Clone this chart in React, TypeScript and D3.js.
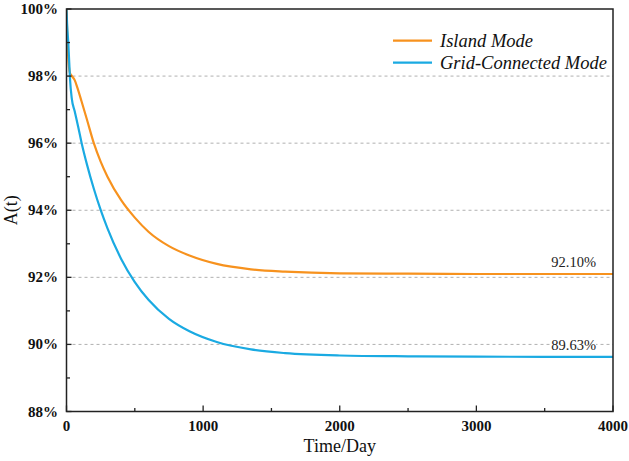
import React from "react";
import * as d3 from "d3";

const islandT = [0, 5, 12, 25, 40, 60, 80, 110, 150, 200, 250, 300, 400, 500, 600, 750, 900, 1100, 1350, 1600, 2000, 2500, 3000, 3500, 4000];
const islandA = [100, 99.3, 98.6, 98.1, 98.0, 97.88, 97.65, 97.25, 96.7, 96.0, 95.45, 95.0, 94.3, 93.78, 93.36, 92.93, 92.65, 92.4, 92.24, 92.17, 92.12, 92.11, 92.1, 92.1, 92.1];

const gridT = [0, 5, 13, 20, 26, 38, 60, 85, 111, 150, 200, 250, 300, 400, 500, 600, 750, 900, 1100, 1350, 1600, 2000, 2500, 3000, 3500, 4000];
const gridA = [100, 99.5, 99.0, 98.4, 97.9, 97.35, 96.95, 96.5, 96.0, 95.36, 94.64, 94.01, 93.46, 92.55, 91.86, 91.33, 90.76, 90.39, 90.07, 89.85, 89.74, 89.67, 89.645, 89.635, 89.63, 89.63];

const xTicks = [0, 1000, 2000, 3000, 4000];
const xMinor = [500, 1500, 2500, 3500];
const yTicks = [88, 90, 92, 94, 96, 98, 100];
const yMinor = [89, 91, 93, 95, 97, 99];
const gridLines = [90, 92, 94, 96, 98];

const seriesNames = ["Island Mode", "Grid-Connected Mode"];
const annotations = ["92.10%", "89.63%"];
const annotationValues = [92.1, 89.63];

const ORANGE = "#F7921E";
const BLUE = "#1AAAE2";
const FONT = "'Liberation Serif', 'Times New Roman', serif";

export default function App() {
  const W = 629, H = 461;
  const L = 66.5, R = 613, T = 9, B = 411.5;
  const x = d3.scaleLinear().domain([0, 4000]).range([L, R]);
  const y = d3.scaleLinear().domain([88, 100]).range([B, T]);
  const line = d3.line<[number, number]>().x(d => x(d[0])).y(d => y(d[1])).curve(d3.curveMonotoneX);
  const islandPath = line(islandT.map((t, i) => [t, islandA[i]]) as [number, number][]) || "";
  const gridPath = line(gridT.map((t, i) => [t, gridA[i]]) as [number, number][]) || "";

  return (
    <svg width={W} height={H} style={{ position: "absolute", left: 0, top: 0, background: "#fff", fontFamily: FONT }}>
      <rect x={0} y={0} width={W} height={H} fill="#fff" />
      {gridLines.map(v => (
        <line key={"g" + v} x1={L} x2={R} y1={y(v)} y2={y(v)} stroke="#b0b0b0" strokeWidth={1} strokeDasharray="3,3" />
      ))}
      {/* annotations */}
      <text x={596} y={y(annotationValues[0]) - 7} textAnchor="end" fontSize={14.5} fill="#222">{annotations[0]}</text>
      <rect x={552} y={y(90) - 5} width={44} height={10} fill="#fff" />
      <text x={596} y={y(90) + 6} textAnchor="end" fontSize={14.5} fill="#222">{annotations[1]}</text>

      <defs>
        <clipPath id="plotclip"><rect x={L} y={T} width={R - L} height={B - T} /></clipPath>
      </defs>
      <g clipPath="url(#plotclip)">
        <path d={islandPath} fill="none" stroke={ORANGE} strokeWidth={2.2} />
        <path d={gridPath} fill="none" stroke={BLUE} strokeWidth={2.2} />
      </g>

      {/* frame */}
      <rect x={L} y={T} width={R - L} height={B - T} fill="none" stroke="#222" strokeWidth={1.5} />

      {/* x ticks */}
      {xTicks.map(v => (
        <g key={"xt" + v}>
          <line x1={x(v)} x2={x(v)} y1={B} y2={B - 6} stroke="#222" strokeWidth={1.3} />
          <text x={x(v)} y={430.5} textAnchor="middle" fontSize={15} fontWeight="bold" fill="#111">{v}</text>
        </g>
      ))}
      {xMinor.map(v => (
        <line key={"xm" + v} x1={x(v)} x2={x(v)} y1={B} y2={B - 3.5} stroke="#222" strokeWidth={1.3} />
      ))}
      {yTicks.map(v => (
        <g key={"yt" + v}>
          <line x1={L} x2={L + 5} y1={y(v)} y2={y(v)} stroke="#222" strokeWidth={1.3} />
          <text x={58} y={y(v) + 5} textAnchor="end" fontSize={15} fontWeight="bold" fill="#111">{v}%</text>
        </g>
      ))}
      {yMinor.map(v => (
        <line key={"ym" + v} x1={L} x2={L + 3.5} y1={y(v)} y2={y(v)} stroke="#222" strokeWidth={1.3} />
      ))}

      {/* axis titles */}
      <text x={(L + R) / 2} y={451.5} textAnchor="middle" fontSize={18} fill="#111">Time/Day</text>
      <text transform={`translate(17,${(T + B) / 2}) rotate(-90)`} textAnchor="middle" fontSize={18} fill="#111">A(t)</text>

      {/* legend */}
      <line x1={393} x2={432} y1={40.7} y2={40.7} stroke={ORANGE} strokeWidth={2.2} />
      <text x={440} y={46.5} fontSize={18.5} fontStyle="italic" fill="#111">{seriesNames[0]}</text>
      <line x1={393} x2={432} y1={62.7} y2={62.7} stroke={BLUE} strokeWidth={2.2} />
      <text x={440} y={68.5} fontSize={18.5} fontStyle="italic" fill="#111">{seriesNames[1]}</text>
    </svg>
  );
}
